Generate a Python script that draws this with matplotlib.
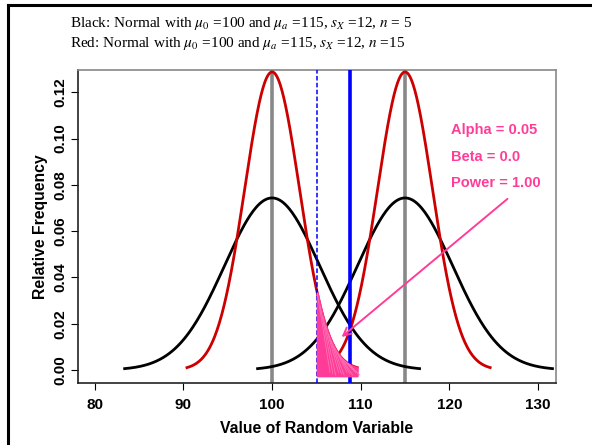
import numpy as np
import matplotlib
matplotlib.use("Agg")
import matplotlib.pyplot as plt
from matplotlib.lines import Line2D

plt.rcParams['mathtext.fontset'] = 'stix'

# 参数（从图中标题读取）
mu_0 = 100
mu_a = 115
s_x = 12
n_values = [5, 15]
curve_colors = ['black', '#cc0000']
z_crit = 1.645  # alpha = 0.05, 单侧
sd_span = 3.1

x_ticks = [80, 90, 100, 110, 120, 130]
y_ticks = [0.00, 0.02, 0.04, 0.06, 0.08, 0.10, 0.12]
ann_lines = ["Alpha = 0.05", "Beta = 0.0", "Power = 1.00"]
ann_y = [0.1037, 0.092, 0.0808]
pink = '#ff3d98'


def dnorm(x, mu, sd):
    return np.exp(-0.5 * ((x - mu) / sd) ** 2) / (sd * np.sqrt(2 * np.pi))


fig = plt.figure(figsize=(5.92, 4.45), dpi=100)
ax = fig.add_axes([78 / 592, 1 - 383 / 445, (555.7 - 78) / 592, (383 - 70) / 445])

# 竖线
for mu in [mu_0, mu_a]:
    ax.axvline(mu, color='#888888', lw=2.6, zorder=1)

crit = [mu_0 + z_crit * s_x / np.sqrt(n) for n in n_values]
ax.axvline(crit[0], color='#0000ff', lw=2.6, zorder=4)
ax.axvline(crit[1], color='#0000ff', lw=1.1, ls=(0, (3, 1.5)), zorder=4)

# 曲线
for n, c in zip(n_values, curve_colors):
    sd = s_x / np.sqrt(n)
    for mu in [mu_0, mu_a]:
        xs = np.linspace(mu - sd_span * sd, mu + sd_span * sd, 300)
        ax.plot(xs, dnorm(xs, mu, sd), color=c, lw=2.0, zorder=3)

# alpha 区域 (n=15)
sd15 = s_x / np.sqrt(n_values[1])
xa = np.linspace(crit[1], mu_0 + sd_span * sd15, 100)
ya = dnorm(xa, mu_0, sd15)
ax.fill_between(xa, -0.0025, ya, color=pink, lw=1.5, edgecolor=pink, zorder=5)
# 涂鸦纹理
for i in range(0, len(xa) - 20, 7):
    j = min(len(xa) - 1, i + 25)
    ax.plot([xa[i], xa[j] + 0.3], [ya[i], -0.001 - 0.0006 * (i % 3)],
            color='#ff7ab8', lw=0.5, zorder=6)

for s, y in zip(ann_lines, ann_y):
    ax.text(120.2, y, s, color=pink, fontsize=10.5, fontweight='bold',
            family='Liberation Sans', va='center', ha='left')

ax.annotate('', xy=(107.6, 0.0135), xytext=(126.8, 0.0747),
            arrowprops=dict(arrowstyle='->', color=pink, lw=1.4,
                            mutation_scale=14), zorder=7)

ax.set_xlim(78.1, 132.0)
ax.set_ylim(-0.0056, 0.1296)
ax.set_xticks(x_ticks)
ax.set_yticks(y_ticks)
ax.set_xticklabels([str(t) for t in x_ticks])
ax.set_yticklabels([f"{t:.2f}" for t in y_ticks], rotation=90, va='center')
for lab in ax.get_xticklabels() + ax.get_yticklabels():
    lab.set_family('Liberation Sans')
    lab.set_fontweight('bold')
    lab.set_fontsize(11)
ax.tick_params(direction='out', length=5, width=0.8, pad=6)
ax.tick_params(axis='y', pad=2.5)
ax.set_xlabel("Value of Random Variable", family='Liberation Sans',
              fontweight='bold', fontsize=11.3, labelpad=6)
ax.set_ylabel("Relative Frequency", family='Liberation Sans',
              fontweight='bold', fontsize=11.3, labelpad=4)
for side in ['top', 'right']:
    ax.spines[side].set_color('#888888')
for side in ['left', 'bottom']:
    ax.spines[side].set_color('#222222')
for sp in ax.spines.values():
    sp.set_linewidth(1.2)

title_font = dict(family='Liberation Serif', fontsize=11, va='center', ha='left')
fig.text(70 / 592, 1 - 23 / 445,
         r"Black: Normal with $\mu_0$ =100 and $\mu_a$ =115, $s_X$ =12, $n$ = 5",
         **title_font)
fig.text(70 / 592, 1 - 44 / 445,
         r"Red: Normal with $\mu_0$ =100 and $\mu_a$ =115, $s_X$ =12, $n$ =15",
         **title_font)

# 外框
fig.add_artist(Line2D([8 / 592, 1], [1 - 5 / 445, 1 - 5 / 445], color='black', lw=2.2))
fig.add_artist(Line2D([8 / 592, 8 / 592], [0, 1 - 5 / 445], color='black', lw=2.2))

fig.savefig("out.png", dpi=100)
